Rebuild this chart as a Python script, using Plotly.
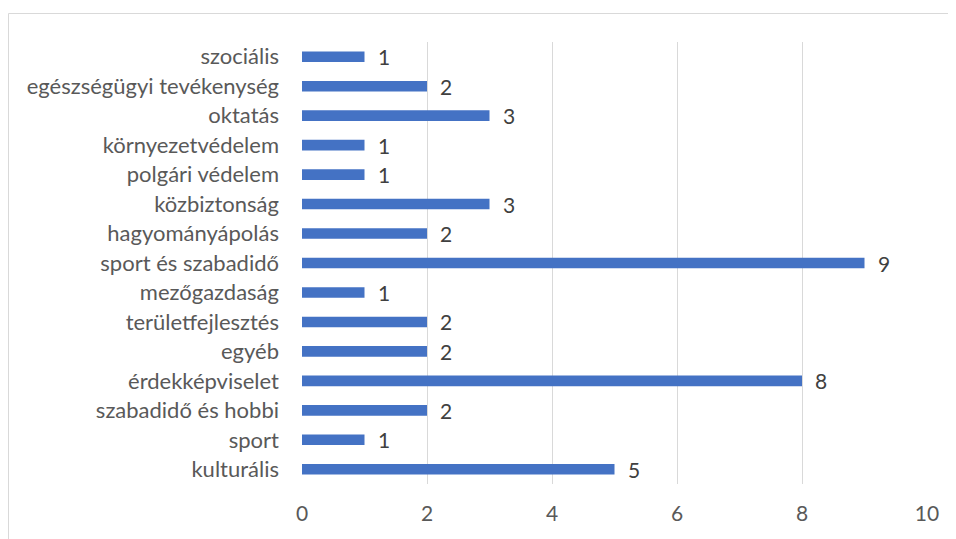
import plotly.graph_objects as go

categories = ["kulturális", "sport", "szabadidő és hobbi", "érdekképviselet", "egyéb",
              "területfejlesztés", "mezőgazdaság", "sport és szabadidő", "hagyományápolás",
              "közbiztonság", "polgári védelem", "környezetvédelem", "oktatás",
              "egészségügyi tevékenység", "szociális"]
values = [5, 1, 2, 8, 2, 2, 1, 9, 2, 3, 1, 1, 3, 2, 1]
x_ticks = [0, 2, 4, 6, 8, 10]

# page is rendered with an 8px body margin: figure px = page px - 8
W, H = 956, 539
L, R, T, B = 294, 37, 34, 63
pw, ph = W - L - R, H - T - B
FONT = "Lato"

fig = go.Figure()
fig.add_trace(go.Bar(
    y=categories, x=values, orientation="h",
    marker=dict(color="#4472C4", line=dict(width=0)),
    width=0.36, hoverinfo="x+y",
))
for c, v in zip(categories, values):
    fig.add_annotation(x=v, y=c, text=str(v), showarrow=False, xanchor="left",
                       xshift=11, font=dict(size=21, color="#404040", family=FONT))

def px_x(p):
    return (p - L) / pw

def px_y(p):
    return (H - B - p) / ph

fig.add_shape(type="rect", xref="paper", yref="paper",
              x0=px_x(0.5), x1=px_x(1000), y0=px_y(5.5), y1=px_y(600),
              line=dict(color="#D9D9D9", width=1), fillcolor="rgba(0,0,0,0)", layer="below")

fig.update_layout(
    width=W, height=H,
    margin=dict(l=L, r=R, t=T, b=B, autoexpand=False),
    paper_bgcolor="white", plot_bgcolor="white",
    showlegend=False,
    font=dict(family=FONT, size=21, color="#595959"),
    xaxis=dict(range=[0, 10], tickvals=x_ticks, showgrid=True, gridcolor="#D9D9D9",
               gridwidth=1, zeroline=False, showline=False, ticks="",
               ticklabelstandoff=15, tickfont=dict(size=21, color="#595959", family=FONT)),
    yaxis=dict(categoryorder="array", categoryarray=categories, showgrid=False,
               zeroline=False, showline=False, ticks="", ticklabelstandoff=22,
               tickfont=dict(size=22, color="#595959", family=FONT), range=[-0.5, 14.5]),
)
fig.write_html("out.html")
